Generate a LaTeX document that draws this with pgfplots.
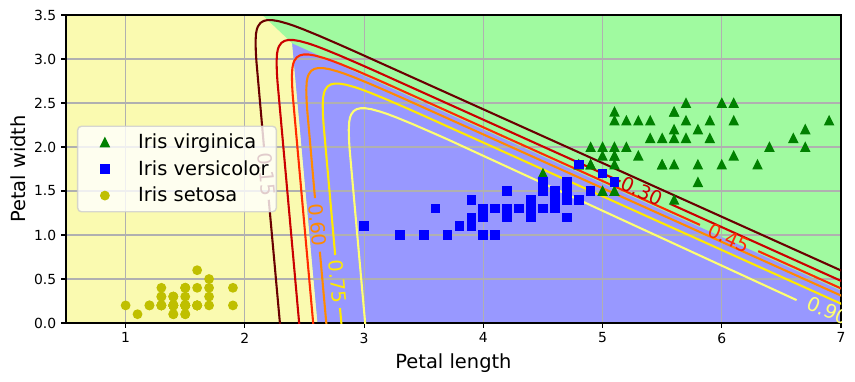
\documentclass[border=0pt]{standalone}
\usepackage{fontspec}
\setmainfont{DejaVu Sans}
\usepackage{pgfplots}
\pgfplotsset{compat=1.18}
\definecolor{ybg}{HTML}{FAFAB0}
\definecolor{bbg}{HTML}{9898FF}
\definecolor{gbg}{HTML}{A0FAA0}
\definecolor{cA}{HTML}{6A0000}
\definecolor{cB}{HTML}{CA0000}
\definecolor{cC}{HTML}{FF2B00}
\definecolor{cD}{HTML}{FF8A00}
\definecolor{cE}{HTML}{FFEA00}
\definecolor{cF}{HTML}{FFFF70}
\definecolor{gridgray}{HTML}{B0B0B0}
\definecolor{leggray}{HTML}{CCCCCC}
\definecolor{mplgreen}{rgb}{0,0.5,0}
\definecolor{mplyellow}{rgb}{0.75,0.75,0}
\pgfdeclareplotmark{mtri}{%
  \pgfpathmoveto{\pgfqpoint{0pt}{3pt}}%
  \pgfpathlineto{\pgfqpoint{-3pt}{-3pt}}%
  \pgfpathlineto{\pgfqpoint{3pt}{-3pt}}%
  \pgfpathclose\pgfusepathqfillstroke}
\pgfdeclareplotmark{msq}{%
  \pgfpathrectangle{\pgfqpoint{-3pt}{-3pt}}{\pgfqpoint{6pt}{6pt}}%
  \pgfusepathqfillstroke}
\pgfdeclareplotmark{mcirc}{%
  \pgfpathcircle{\pgfpointorigin}{3pt}%
  \pgfusepathqfillstroke}
\pgfplotsset{
  mylegimg/.style={legend image code/.code={\path[draw=none,fill=none] (0pt,-3pt) rectangle (28pt,3pt);
      \path[##1,draw=none,fill=none,fill opacity=1,draw opacity=1] plot[only marks] coordinates {(14pt,0pt)};}},
  cline/.style={line width=1.5pt, no marks, forget plot},
}
\tikzset{clab/.style={font=\fontsize{14}{16.8}\selectfont, inner sep=0pt, anchor=center}}
\begin{document}
\begin{tikzpicture}
\begin{axis}[
  set layers,
  at={(0pt,0pt)}, anchor=south west,
  scale only axis, width=558pt, height=221.76pt,
  xmin=0.5, xmax=7, ymin=0, ymax=3.5,
  xtick={1,2,3,4,5,6,7},
  ytick={0,0.5,1,1.5,2,2.5,3,3.5},
  yticklabels={0.0,0.5,1.0,1.5,2.0,2.5,3.0,3.5},
  tick pos=left,
  tick align=outside, major tick length=3.5pt,
  every tick/.style={black, line width=0.8pt},
  axis line style={black, line width=0.8pt},
  grid=major, grid style={gridgray, line width=0.8pt},
  ticklabel style={font=\fontsize{10}{12}\selectfont},
  /pgf/number format/assume math mode=true,
  xlabel={Petal length}, ylabel={Petal width},
  label style={font=\fontsize{14}{16.8}\selectfont},
  xlabel style={at={(axis description cs:0.5,-0.1461)}, anchor=base},
  ylabel style={at={(axis description cs:-0.0529,0.5)}, anchor=base},
  legend cell align=left,
  legend style={at={(axis description cs:0,0.5)}, anchor=west, xshift=7.9pt,
    draw=leggray, line width=1pt, rounded corners=2.8pt,
    fill=white, fill opacity=0.8, draw opacity=0.8, text opacity=1,
    inner xsep=5.6pt, inner ysep=5.6pt, column sep=10pt, row sep=7pt,
    nodes={inner sep=0pt}, font=\fontsize{14}{16.8}\selectfont},
]
% decision regions
\addplot[fill=gbg, draw=none, on layer=axis background, forget plot] coordinates {(0.5,0) (7,0) (7,3.5) (0.5,3.5)} -- cycle;
\addplot[fill=ybg, draw=none, on layer=axis background, forget plot] coordinates {(0.5,0) (2.610,0) (2.397,3.177) (2.145,3.5) (0.5,3.5)} -- cycle;
\addplot[fill=bbg, draw=none, on layer=axis background, forget plot] coordinates {(2.610,0) (7,0) (7,0.367) (2.397,3.177)} -- cycle;

% data
\addplot[only marks, mark=mtri, mark options={fill=mplgreen, draw=mplgreen, line width=1pt, line join=miter, miter limit=10}, mylegimg] coordinates {
(6.0,2.5) (5.1,1.9) (5.9,2.1) (5.6,1.8) (5.8,2.2) (6.6,2.1) (4.5,1.7) (6.3,1.8) (5.8,1.8) (6.1,2.5) (5.1,2.0) (5.3,1.9) (5.5,2.1) (5.0,2.0) (5.1,2.4) (5.3,2.3) (5.5,1.8) (6.7,2.2) (6.9,2.3) (5.0,1.5) (5.7,2.3) (4.9,2.0) (6.7,2.0) (4.9,1.8) (5.7,2.1) (6.0,1.8) (4.8,1.8) (4.9,1.8) (5.6,2.1) (5.8,1.6) (6.1,1.9) (6.4,2.0) (5.6,2.2) (5.1,1.5) (5.6,1.4) (6.1,2.3) (5.6,2.4) (5.5,1.8) (4.8,1.8) (5.4,2.1) (5.6,2.4) (5.1,2.3) (5.1,1.9) (5.9,2.3) (5.7,2.5) (5.2,2.3) (5.0,1.9) (5.2,2.0) (5.4,2.3) (5.1,1.8)};
\addlegendentry{\rule[-2.9pt]{0pt}{13.4pt}Iris virginica}
\addplot[only marks, mark=msq, mark options={fill=blue, draw=blue, line width=1pt, line join=miter, miter limit=10}, mylegimg] coordinates {
(4.7,1.4) (4.5,1.5) (4.9,1.5) (4.0,1.3) (4.6,1.5) (4.5,1.3) (4.7,1.6) (3.3,1.0) (4.6,1.3) (3.9,1.4) (3.5,1.0) (4.2,1.5) (4.0,1.0) (4.7,1.4) (3.6,1.3) (4.4,1.4) (4.5,1.5) (4.1,1.0) (4.5,1.5) (3.9,1.1) (4.8,1.8) (4.0,1.3) (4.9,1.5) (4.7,1.2) (4.3,1.3) (4.4,1.4) (4.8,1.4) (5.0,1.7) (4.5,1.5) (3.5,1.0) (3.8,1.1) (3.7,1.0) (3.9,1.2) (5.1,1.6) (4.5,1.5) (4.5,1.6) (4.7,1.5) (4.4,1.3) (4.1,1.3) (4.0,1.3) (4.4,1.2) (4.6,1.4) (4.0,1.2) (3.3,1.0) (4.2,1.3) (4.2,1.2) (4.2,1.3) (4.3,1.3) (3.0,1.1) (4.1,1.3)};
\addlegendentry{\rule[-2.9pt]{0pt}{13.4pt}Iris versicolor}
\addplot[only marks, mark=mcirc, mark options={fill=mplyellow, draw=mplyellow, line width=1pt}, mylegimg] coordinates {
(1.4,0.2) (1.4,0.2) (1.3,0.2) (1.5,0.2) (1.4,0.2) (1.7,0.4) (1.4,0.3) (1.5,0.2) (1.4,0.2) (1.5,0.1) (1.5,0.2) (1.6,0.2) (1.4,0.1) (1.1,0.1) (1.2,0.2) (1.5,0.4) (1.3,0.4) (1.4,0.3) (1.7,0.3) (1.5,0.3) (1.7,0.2) (1.5,0.4) (1.0,0.2) (1.7,0.5) (1.9,0.2) (1.6,0.2) (1.6,0.4) (1.5,0.2) (1.4,0.2) (1.6,0.2) (1.6,0.2) (1.5,0.4) (1.5,0.1) (1.4,0.2) (1.5,0.2) (1.2,0.2) (1.3,0.2) (1.4,0.1) (1.3,0.2) (1.5,0.2) (1.3,0.3) (1.3,0.3) (1.3,0.2) (1.6,0.6) (1.9,0.4) (1.4,0.3) (1.6,0.2) (1.4,0.2) (1.5,0.2) (1.4,0.2)};
\addlegendentry{\rule[-2.9pt]{0pt}{13.4pt}Iris setosa}

% contour 0.15
\addplot[cline, cA] coordinates {(2.2975,-0.05) (2.2005,1.40)};
\addplot[cline, cA] coordinates {(2.1604,2.00) (2.0968,2.9776) (2.0923,3.0728) (2.0897,3.1965) (2.0935,3.2866) (2.1005,3.3364) (2.1094,3.3694) (2.1309,3.4102) (2.1575,3.4324) (2.1899,3.4423) (2.2306,3.4418) (2.2837,3.4299) (2.3592,3.4016) (2.4132,3.3767) (2.4896,3.3377) (2.6205,3.2650) (2.7938,3.1632) (2.9251,3.0845) (8,-0.0135)};
% contour 0.30
\addplot[cline, cB] coordinates {(2.4588,-0.05) (2.2732,2.7516) (2.2687,2.8468) (2.2661,2.9705) (2.2699,3.0606) (2.2769,3.1104) (2.2858,3.1434) (2.3073,3.1842) (2.3339,3.2064) (2.3663,3.2163) (2.4070,3.2158) (2.4601,3.2039) (2.5356,3.1756) (2.5896,3.1507) (2.6660,3.1117) (2.7969,3.0390) (2.9702,2.9372) (3.1015,2.8585) (5.15,1.6087)};
\addplot[cline, cB] coordinates {(5.57,1.3522) (8,-0.1318)};
% contour 0.45
\addplot[cline, cC] coordinates {(2.5764,-0.05) (2.4018,2.5868) (2.3973,2.6820) (2.3947,2.8057) (2.3985,2.8958) (2.4055,2.9456) (2.4144,2.9786) (2.4359,3.0194) (2.4625,3.0416) (2.4949,3.0515) (2.5356,3.0510) (2.5887,3.0391) (2.6642,3.0108) (2.7182,2.9859) (2.7946,2.9469) (2.9255,2.8742) (3.0988,2.7724) (3.2301,2.6937) (5.817,1.1151)};
\addplot[cline, cC] coordinates {(6.306,0.8165) (8,-0.2180)};
% contour 0.60
\addplot[cline, cD] coordinates {(2.6866,-0.05) (2.6290,0.81)};
\addplot[cline, cD] coordinates {(2.5882,1.42) (2.5223,2.4324) (2.5178,2.5276) (2.5152,2.6513) (2.5190,2.7414) (2.5260,2.7912) (2.5349,2.8242) (2.5564,2.8650) (2.5830,2.8872) (2.6154,2.8971) (2.6561,2.8966) (2.7092,2.8847) (2.7847,2.8564) (2.8387,2.8315) (2.9151,2.7925) (3.0460,2.7198) (3.2193,2.6180) (3.3506,2.5393) (8,-0.2988)};
% contour 0.75
\addplot[cline, cE] coordinates {(2.8127,-0.05) (2.7979,0.17)};
\addplot[cline, cE] coordinates {(2.7576,0.773) (2.6602,2.2558) (2.6557,2.3510) (2.6531,2.4747) (2.6569,2.5648) (2.6639,2.6146) (2.6728,2.6476) (2.6943,2.6884) (2.7209,2.7106) (2.7533,2.7205) (2.7940,2.7200) (2.8471,2.7081) (2.9226,2.6798) (2.9766,2.6549) (3.0530,2.6159) (3.1839,2.5432) (3.3572,2.4414) (3.4885,2.3627) (8,-0.3912)};
% contour 0.90
\addplot[cline, cF] coordinates {(3.0123,-0.05) (2.8786,1.9759) (2.8741,2.0711) (2.8715,2.1948) (2.8753,2.2849) (2.8823,2.3347) (2.8912,2.3677) (2.9127,2.4085) (2.9393,2.4307) (2.9717,2.4406) (3.0124,2.4401) (3.0655,2.4282) (3.1410,2.3999) (3.1950,2.3750) (3.2714,2.3360) (3.4023,2.2633) (3.5756,2.1614) (3.7069,2.0828) (6.628,0.2601)};

% contour labels
\node[clab, text=cA, rotate=-84.8] at (axis cs:2.1811,1.69) {0.15};
\node[clab, text=cB, rotate=-24.26] at (axis cs:5.33,1.4988) {0.30};
\node[clab, text=cC, rotate=-24.26] at (axis cs:6.06,0.967) {0.45};
\node[clab, text=cD, rotate=-84.8] at (axis cs:2.6087,1.114) {0.60};
\node[clab, text=cE, rotate=-84.8] at (axis cs:2.7779,0.47) {0.75};
\node[clab, text=cF, rotate=-24.26] at (axis cs:6.89,0.14) {0.90};
\end{axis}
\pgfresetboundingbox
\path[use as bounding box] (-47.52pt,-41.76pt) rectangle (568.08pt,232.56pt);
\end{tikzpicture}
\end{document}
